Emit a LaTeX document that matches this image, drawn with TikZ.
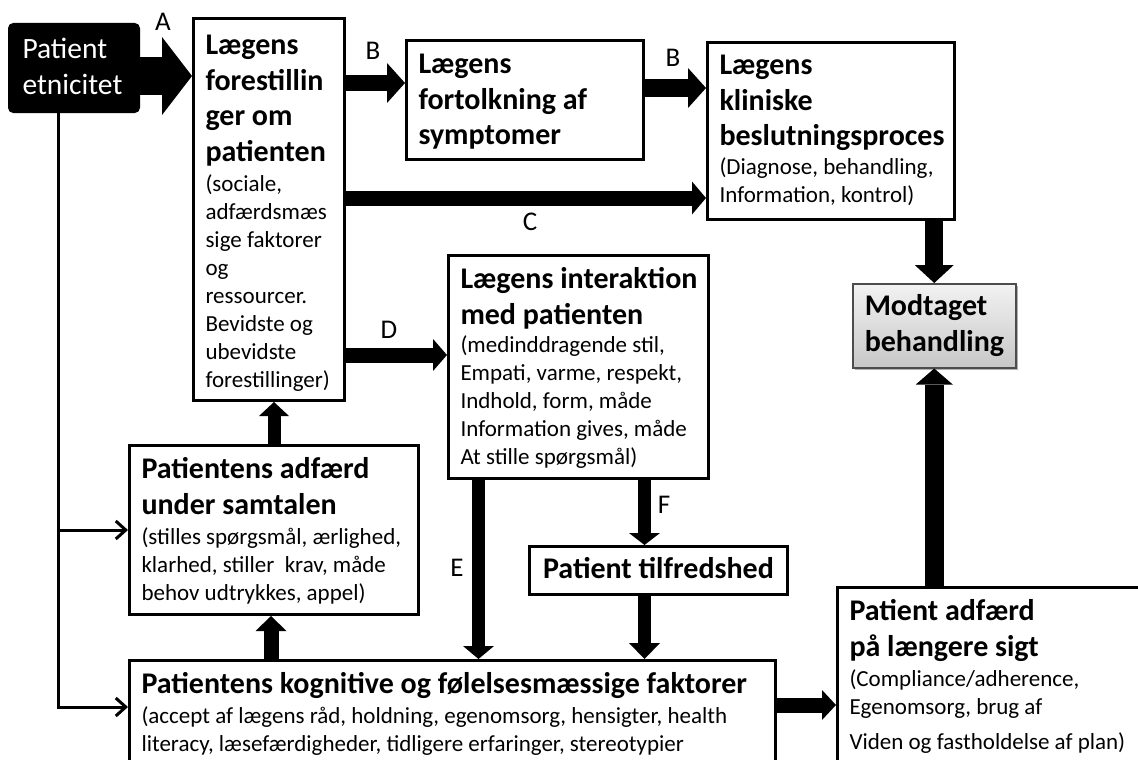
\documentclass[tikz,border=0pt]{standalone}
\usepackage{fontspec}
\setmainfont{Carlito}
\usetikzlibrary{arrows.meta,shadows,calc}
\newcommand\bfn{\fontsize{30}{35.5}\selectfont\bfseries}
\newcommand\rfn{\fontsize{23}{28}\selectfont}
\newcommand\lbl{\fontsize{27}{30}\selectfont}
\newcommand\boxtext[4]{\parbox[c][#2][t]{#1}{\raggedright\leftskip=12pt\lineskiplimit=-100pt\rule{0pt}{#3}#4}}
\tikzset{
  box/.style={draw=black, line width=3pt, fill=white, inner sep=0pt, anchor=north west},
  blk/.style n args={3}{line width=#1, -{Triangle[width=#2,length=#3,line width=0pt]}},
  thinarr/.style={line width=3pt, -{Straight Barb[length=10pt,width=18pt]}},
  lab/.style={font=\lbl, inner sep=0pt},
}
\begin{document}
\begin{tikzpicture}[x=1pt,y=-1pt]
\useasboundingbox (0,0) rectangle (1138,760);
\clip (0,0) rectangle (1138,760);
\fill[white] (0,0) rectangle (1138,760);

% boxes
\node[box, fill=black, rounded corners=4pt, text=white] (etn) at (8,23)
  {\parbox[c][87pt][t]{129pt}{\raggedright\leftskip=13pt\lineskiplimit=-100pt\fontsize{29.5}{36}\selectfont\rule{0pt}{34pt}Patient\\etnicitet\par}};

\node[box] (fore) at (192,17) {\boxtext{151pt}{382pt}{36pt}{{\bfn Lægens\\forestillin\\ger om\\patienten\par}\vspace{2pt}{\rfn (sociale,\\adfærdsmæs\\sige faktorer\\og\\ressourcer.\\Bevidste og\\ubevidste\\forestillinger)\par}}};

\node[box] (fort) at (405,39) {\boxtext{237pt}{119pt}{33pt}{{\bfn Lægens\\fortolkning af\\symptomer\par}}};

\node[box] (klin) at (706,41) {\boxtext{247pt}{177pt}{32pt}{{\bfn Lægens\\kliniske\\beslutningsproces\par}\vspace{1pt}{\rfn (Diagnose, behandling,\\Information, kontrol)\par}}};

\node[box] (inter) at (447,254) {\boxtext{260pt}{223pt}{33pt}{{\bfn Lægens interaktion\\med patienten\par}{\rfn (medinddragende stil,\\Empati, varme, respekt,\\Indhold, form, måde\\Information gives, måde\\At stille spørgsmål)\par}}};

\node[box, draw=black!70, line width=1.5pt, top color=white!95!black, bottom color=white!78!black,
      drop shadow={shadow xshift=2pt, shadow yshift=-2pt, opacity=0.3, fill=black}] (modt) at (852,283)
  {\boxtext{163pt}{84pt}{32pt}{{\bfn Modtaget\\behandling\par}}};

\node[box] (adf) at (128,444) {\boxtext{289pt}{169pt}{33pt}{{\bfn Patientens adfærd\\under samtalen\par}\vspace{2pt}{\rfn (stilles spørgsmål, ærlighed,\\klarhed, stiller\ \ krav, måde\\behov udtrykkes, appel)\par}}};

\node[box] (tilf) at (528,545) {\parbox[c][48pt][t]{258pt}{\centering\lineskiplimit=-100pt\rule{0pt}{32pt}\bfn Patient tilfredshed\par}};

\node[box] (kogn) at (128,659) {\boxtext{646pt}{130pt}{33pt}{{\bfn Patientens kognitive og følelsesmæssige faktorer\par}\vspace{2pt}{\rfn (accept af lægens råd, holdning, egenomsorg, hensigter, health\\literacy, læsefærdigheder, tidligere erfaringer, stereotypier\par}}};

\node[box] (lang) at (836,586) {\boxtext{340pt}{200pt}{33pt}{{\bfn Patient adfærd\\på længere sigt\par}\vspace{2pt}{\rfn (Compliance/adherence,\\Egenomsorg, brug af\\[7pt]Viden og fastholdelse af plan)\par}}};

% labels
\node[lab] (la) at (163,22) {A};
\node[lab] (lb1) at (373,51) {B};
\node[lab] (lb2) at (673,58) {B};
\node[lab] (lc) at (530,222) {C};
\node[lab] (ld) at (389,330) {D};
\node[lab] (le) at (457,568) {E};
\node[lab] (lf) at (664,505) {F};

% thick arrows
\coordinate (a0) at ([yshift=-8pt]etn.east);
\draw[blk={37pt}{78pt}{30pt}] (a0) -- (a0 -| fore.west);
\coordinate (b1) at ([yshift=-66pt]fore.north east);
\draw[blk={16pt}{40pt}{18pt}] (b1) -- (b1 -| fort.west);
\coordinate (b2) at ([yshift=-49pt]fort.north east);
\draw[blk={17pt}{40pt}{18pt}] (b2) -- (b2 -| klin.west);
\coordinate (c1) at ([yshift=-181pt]fore.north east);
\draw[blk={15pt}{33pt}{14pt}] (c1) -- (c1 -| klin.west);
\coordinate (d1) at ([yshift=-338pt]fore.north east);
\draw[blk={15pt}{32pt}{14pt}] (d1) -- (d1 -| inter.west);
\draw[blk={18pt}{39pt}{18pt}] (modt.north |- klin.south) -- (modt.north);
\draw[blk={19pt}{37pt}{16pt}] (modt.south |- lang.north) -- (modt.south);
\draw[blk={13pt}{30pt}{14pt}] (adf.north) -- (adf.north |- fore.south);
\coordinate (k2) at ([xshift=-3pt]adf.south);
\draw[blk={15pt}{31pt}{15pt}] (k2 |- kogn.north) -- (k2);
\coordinate (e1) at ([xshift=-100pt]inter.south);
\draw[blk={13pt}{31pt}{13pt}] (e1) -- (e1 |- kogn.north);
\coordinate (f1) at ([xshift=-14pt]tilf.north);
\draw[blk={13pt}{31pt}{12pt}] (f1 |- inter.south) -- (f1);
\coordinate (f2) at ([xshift=-14pt]tilf.south);
\draw[blk={13pt}{31pt}{16pt}] (f2) -- (f2 |- kogn.north);
\coordinate (g1) at ([yshift=-46pt]kogn.north east);
\draw[blk={15pt}{30pt}{14pt}] (g1) -- (g1 -| lang.west);

% thin connectors
\coordinate (l0) at ([xshift=-15.5pt]etn.south);
\coordinate (l1) at ([yshift=-48pt]kogn.north west);
\draw[thinarr] (l0) |- (l1);
\draw[thinarr] (l0 |- adf.west) -- (adf.west);
\end{tikzpicture}
\end{document}
